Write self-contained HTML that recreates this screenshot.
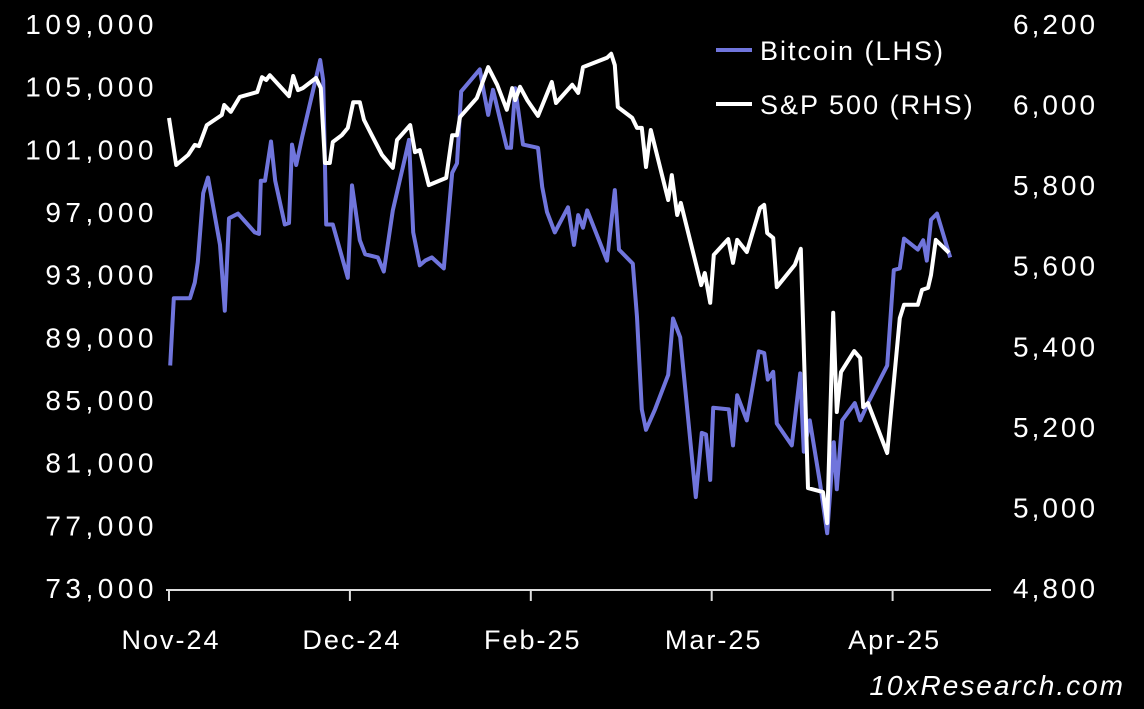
<!DOCTYPE html>
<html><head><meta charset="utf-8"><style>
html,body{margin:0;padding:0;background:#000;width:1144px;height:709px;overflow:hidden}
svg text{font-family:"Liberation Sans",sans-serif;fill:#fff}
</style></head><body>
<svg id="chart" width="1144" height="709" viewBox="0 0 1144 709" xmlns="http://www.w3.org/2000/svg">
<rect width="1144" height="709" fill="#000"/>
<g id="axes"></g>
<g id="series"></g>
<g>
<line x1="716" y1="50" x2="752" y2="50" stroke="#7075dc" stroke-width="4"/>
<text x="760" y="60" font-size="27" letter-spacing="2">Bitcoin (LHS)</text>
<line x1="716" y1="104" x2="752" y2="104" stroke="#fff" stroke-width="4"/>
<text x="760" y="114" font-size="27" letter-spacing="2">S&amp;P 500 (RHS)</text>
</g>
<text x="1125" y="695" font-size="28" font-style="italic" letter-spacing="2" text-anchor="end">10xResearch.com</text>
</svg>
<script>
const xTickLabels=["Nov-24","Dec-24","Feb-25","Mar-25","Apr-25"];
const xTickDays=[0,30,60,90,120];
const leftTicks=[73000,77000,81000,85000,89000,93000,97000,101000,105000,109000];
const rightTicks=[4800,5000,5200,5400,5600,5800,6000,6200];
const btcDays=[0.2,0.8,3.5,4.3,4.8,5.7,6.5,8.5,9.3,10,11.5,14.3,15,15.3,16,17,17.7,19.3,20,20.5,21.2,22.2,25.2,25.7,26.2,27.3,29.8,30.5,31.8,32.7,34.8,35.8,37.3,39.3,40,40.7,41.8,42.7,43.8,45.8,47.2,48,48.7,51.8,52.5,53.2,54,56.3,57,57.7,59,61.5,62.2,63,64.3,66.5,67.5,68.2,69,69.7,73,74.3,75,77.3,78,78.8,79.5,81,83.2,84,85.2,87.8,88.8,89.5,90.2,90.7,93.3,94,94.7,96.3,98.3,99.2,99.8,100.7,101.3,103.8,105.2,105.8,106.8,108.5,109.7,110.8,111.3,112.2,114.3,115.2,116.5,119.7,120.8,121.8,122.5,124.8,125.7,126.3,127,128,130.2];
const btcValues=[87200,91500,91500,92500,93800,98200,99200,94900,90700,96600,96900,95700,95600,99000,99000,101500,99000,96200,96300,101300,100000,101800,106700,105400,96200,96200,92800,98700,95200,94300,94100,93200,97100,100400,101600,95700,93600,93900,94100,93400,99500,100100,104700,106100,104600,103200,104800,101100,101100,104900,101300,101100,98600,97000,95700,97300,94900,96800,96000,97100,93900,98400,94600,93700,90300,84400,83100,84400,86600,90200,89000,78800,82900,82800,79900,84500,84400,82100,85300,83700,88100,88000,86300,86800,83500,82100,86700,81700,83700,79700,76500,82300,79300,83700,84800,83700,84800,87200,93300,93400,95300,94600,95200,93900,96500,96900,94100];
const spxDays=[0,1.2,3.2,4.3,5,6.3,8.8,9.2,10.3,11.8,14.7,15.5,16.2,16.8,20,20.7,21.5,22.3,24.5,25.3,26,26.8,27.3,28.8,29.8,30.7,31.8,32.5,33.8,35.5,37.3,38,40.2,41,41.8,43.3,46.2,47.2,48,48.5,51.3,53.2,54.7,56.3,57.2,57.7,58.5,59.7,61.5,63.8,64.5,67.2,68.2,69,73,73.7,74.3,74.8,77.2,78,78.8,79.5,80.3,83.2,83.8,84.7,85.3,88.7,89.3,90.2,90.8,93.2,94,94.7,96.3,98.5,99.2,99.7,100.7,101.3,104.3,105.3,106.5,109,109.7,110.7,111.3,112,114.2,115.2,115.7,116.5,119.7,121.8,122.5,124.8,125.5,126.5,127,127.8,130];
const spxValues=[5967,5850,5875,5900,5897,5949,5974,5999,5982,6019,6031,6068,6061,6073,6021,6071,6036,6041,6066,6041,5855,5855,5907,5924,5942,6006,6006,5962,5924,5875,5843,5912,5949,5882,5887,5800,5818,5924,5924,5969,6016,6093,6049,5987,6041,6011,6044,6011,5972,6056,6004,6049,6029,6093,6116,6126,6098,5994,5967,5942,5942,5845,5937,5763,5825,5726,5756,5552,5582,5508,5627,5666,5607,5664,5634,5743,5751,5681,5669,5547,5602,5642,5048,5038,4961,5483,5237,5336,5388,5371,5249,5259,5135,5470,5503,5503,5540,5545,5577,5664,5632];

const NS="http://www.w3.org/2000/svg";
const X0=169, PXDAY=6.0, YTOP=24, YBOT=588;
const xS=d=>X0+d*PXDAY;
const yL=v=>YBOT-(v-73000)/(109000-73000)*(YBOT-YTOP);
const yR=v=>YBOT-(v-4800)/(6200-4800)*(YBOT-YTOP);
function mk(tag,attrs,parent){const e=document.createElementNS(NS,tag);for(const k in attrs)e.setAttribute(k,attrs[k]);parent.appendChild(e);return e;}
const axes=document.getElementById('axes');
const ax=mk('line',{x1:166,y1:590,x2:991,y2:590,stroke:'#ddd','stroke-width':2},axes);


xTickDays.forEach((d,i)=>{
  const tx=169+d*6.03;
  const t=mk('line',{x1:tx,y1:590,x2:tx,y2:601,stroke:'#ddd','stroke-width':2},axes);
  
  
  const l=mk('text',{x:tx+2,y:649,'font-size':27,'letter-spacing':2,'text-anchor':'middle'},axes);
  l.textContent=xTickLabels[i];
  
  
});
leftTicks.forEach(v=>{
  const l=mk('text',{x:158,y:yL(v)+10,'font-size':28,'letter-spacing':4.5,'text-anchor':'end'},axes);
  l.textContent=v.toLocaleString('en-US');
  
  
});
rightTicks.forEach(v=>{
  const l=mk('text',{x:1013,y:yR(v)+10,'font-size':28,'letter-spacing':3,'text-anchor':'start'},axes);
  l.textContent=v.toLocaleString('en-US');
  
  
});
const series=document.getElementById('series');
const bp=btcDays.map((d,i)=>xS(d).toFixed(1)+','+yL(btcValues[i]).toFixed(1)).join(' ');
const b=mk('polyline',{points:bp,fill:'none',stroke:'#7075dc','stroke-width':4,'stroke-linejoin':'round'},series);


const sp=spxDays.map((d,i)=>xS(d).toFixed(1)+','+yR(spxValues[i]).toFixed(1)).join(' ');
const s=mk('polyline',{points:sp,fill:'none',stroke:'#fff','stroke-width':4,'stroke-linejoin':'round'},series);


</script>
</body></html>
